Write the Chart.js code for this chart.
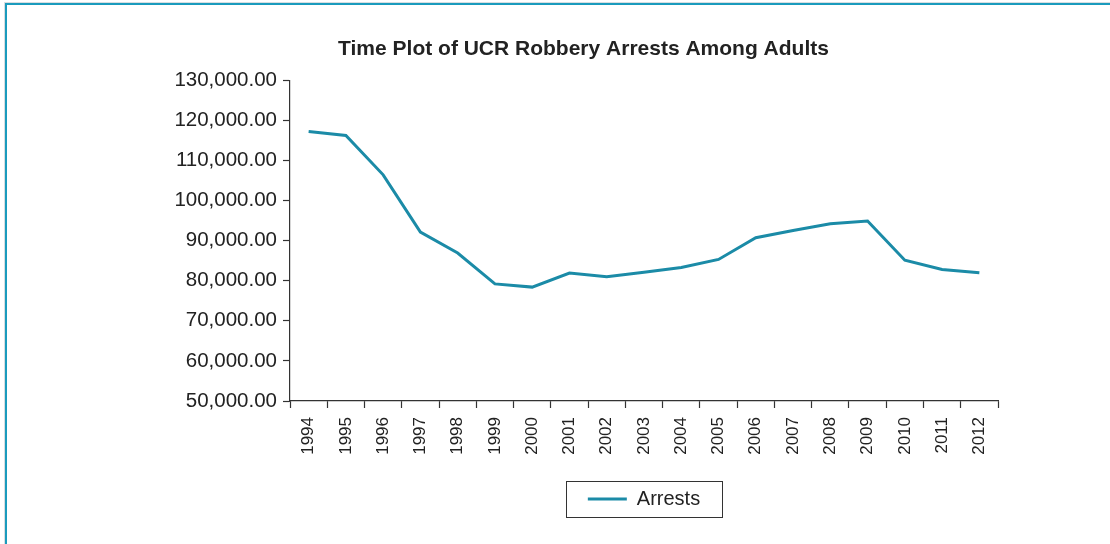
<!DOCTYPE html>
<html>
<head>
<meta charset="utf-8">
<title>Time Plot of UCR Robbery Arrests Among Adults</title>
<script src="https://cdn.jsdelivr.net/npm/chart.js@4.4.1/dist/chart.umd.min.js"></script>
<style>
  html, body { margin: 0; padding: 0; background: #ffffff; }
  #wrap { position: relative; width: 1110px; height: 544px; overflow: hidden; background: #ffffff; }
  #frame {
    position: absolute; left: 5px; top: 3px; right: -10px; bottom: -10px;
    border-top: 2px solid #1a9bbd; border-left: 2px solid #1a9bbd;
    box-shadow: -1px -1px 0 #d8dde0;
  }
  canvas { position: absolute; left: 0; top: 0; }
</style>
</head>
<body>
<div id="wrap">
  <div id="frame"></div>
  <canvas id="chart" width="1110" height="544"></canvas>
</div>
<script>
// Years on the horizontal axis
const years = ['1994','1995','1996','1997','1998','1999','2000','2001','2002','2003',
               '2004','2005','2006','2007','2008','2009','2010','2011','2012'];

// Adult robbery arrests reported by UCR
const arrests = [117200, 116200, 106400, 92100, 86900, 79200, 78400, 81900, 81000, 82100,
                 83300, 85300, 90700, 92500, 94200, 94900, 85100, 82800, 82000];

// Vertical axis range and tick step
const yMin = 50000;
const yMax = 130000;
const yStep = 10000;

const chartTitle = 'Time Plot of UCR Robbery Arrests Among Adults';
const seriesName = 'Arrests';

const lineColor = '#1b8ba7';
const axisColor = '#333333';
const textColor = '#222222';
const fontFamily = '"Liberation Sans", Arial, Helvetica, sans-serif';

// Draws a rectangular frame around the legend entries
const legendFrame = {
  id: 'legendFrame',
  afterDraw(chart) {
    const lg = chart.legend;
    if (!lg || !lg.legendHitBoxes || !lg.legendHitBoxes.length) return;
    const boxes = lg.legendHitBoxes;
    let x0 = Infinity, y0 = Infinity, x1 = -Infinity, y1 = -Infinity;
    boxes.forEach(b => {
      x0 = Math.min(x0, b.left); y0 = Math.min(y0, b.top);
      x1 = Math.max(x1, b.left + b.width); y1 = Math.max(y1, b.top + b.height);
    });
    const ctx = chart.ctx;
    ctx.save();
    ctx.strokeStyle = axisColor;
    ctx.lineWidth = 1;
    const padX = 22, padY = 8;
    ctx.strokeRect(Math.round(x0 - padX) + 0.5, Math.round(y0 - padY) + 0.5,
                   Math.round(x1 - x0 + 2 * padX), Math.round(y1 - y0 + 2 * padY));
    ctx.restore();
  }
};

new Chart(document.getElementById('chart'), {
  type: 'line',
  data: {
    labels: years,
    datasets: [{
      label: seriesName,
      data: arrests,
      borderColor: lineColor,
      backgroundColor: lineColor,
      borderWidth: 3,
      pointRadius: 0,
      pointHoverRadius: 0,
      tension: 0,
      fill: false
    }]
  },
  options: {
    responsive: false,
    animation: false,
    devicePixelRatio: 1,
    layout: { padding: { left: 169, right: 112, top: 0, bottom: 25 } },
    plugins: {
      title: {
        display: true,
        text: chartTitle,
        color: textColor,
        font: { family: fontFamily, size: 21, weight: 'bold' },
        padding: { top: 37, bottom: 18 }
      },
      legend: {
        display: true,
        position: 'bottom',
        fullSize: false,
        labels: {
          color: textColor,
          font: { family: fontFamily, size: 20 },
          usePointStyle: true,
          pointStyle: 'line',
          pointStyleWidth: 39,
          padding: 10
        }
      },
      tooltip: { enabled: false }
    },
    scales: {
      x: {
        type: 'category',
        offset: true,
        afterFit(scale) { scale.height = 78; },
        border: { display: true, color: axisColor, width: 1.2 },
        grid: {
          offset: true,
          drawOnChartArea: false,
          drawTicks: true,
          tickLength: 7,
          tickWidth: 1.2,
          tickColor: axisColor
        },
        ticks: {
          autoSkip: false,
          minRotation: 90,
          maxRotation: 90,
          padding: 9,
          color: textColor,
          font: { family: fontFamily, size: 17 }
        }
      },
      y: {
        min: yMin,
        max: yMax,
        afterFit(scale) { scale.width = 121; },
        border: { display: true, color: axisColor, width: 1.2 },
        grid: {
          drawOnChartArea: false,
          drawTicks: true,
          tickLength: 7,
          tickWidth: 1.2,
          tickColor: axisColor
        },
        ticks: {
          stepSize: yStep,
          padding: 6,
          color: textColor,
          font: { family: fontFamily, size: 20.5 },
          callback: v => v.toLocaleString('en-US', { minimumFractionDigits: 2, maximumFractionDigits: 2 })
        }
      }
    }
  },
  plugins: [legendFrame]
});
</script>
</body>
</html>
